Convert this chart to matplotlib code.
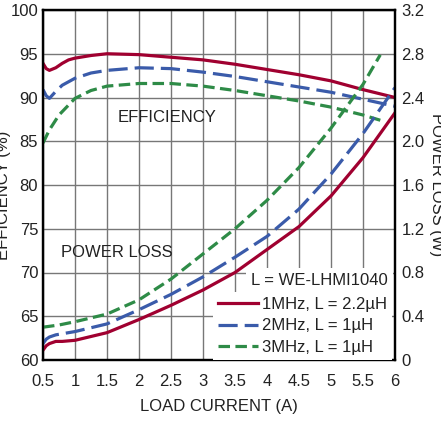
import numpy as np
import matplotlib.pyplot as plt
from matplotlib.lines import Line2D

plt.rcParams['font.family'] = ['Liberation Sans', 'DejaVu Sans']

# Sprawnosc (%) w funkcji pradu obciazenia
i_red_eff = [0.5, 0.55, 0.6, 0.7, 0.8, 0.9, 1.0, 1.25, 1.5, 2, 2.5, 3, 3.5, 4, 4.5, 5, 5.5, 6]
eff_red = [93.9, 93.3, 93.1, 93.4, 93.9, 94.3, 94.5, 94.8, 95.0, 94.9, 94.6, 94.3, 93.8, 93.2, 92.6, 91.9, 90.9, 90.0]

i_blue_eff = [0.5, 0.55, 0.6, 0.7, 0.8, 1.0, 1.25, 1.5, 2, 2.5, 3, 3.5, 4, 4.5, 5, 5.5, 6]
eff_blue = [90.9, 90.2, 89.9, 90.7, 91.4, 92.2, 92.8, 93.1, 93.4, 93.3, 92.9, 92.4, 91.8, 91.2, 90.6, 89.8, 89.0]

i_green_eff = [0.5, 0.6, 0.75, 1.0, 1.25, 1.5, 2, 2.5, 3, 3.5, 4, 4.5, 5, 5.5, 5.77]
eff_green = [84.8, 86.3, 88.0, 89.9, 90.8, 91.3, 91.6, 91.6, 91.3, 90.8, 90.2, 89.6, 88.9, 88.0, 87.4]

# Straty mocy (W)
i_red_pl = [0.5, 0.55, 0.6, 0.7, 0.8, 1.0, 1.5, 2, 2.5, 3, 3.5, 4, 4.5, 5, 5.5, 6]
pl_red = [0.09, 0.13, 0.15, 0.17, 0.17, 0.18, 0.25, 0.37, 0.50, 0.64, 0.80, 1.01, 1.22, 1.50, 1.85, 2.26]

i_blue_pl = [0.5, 0.55, 0.6, 0.7, 0.8, 1.0, 1.5, 2, 2.5, 3, 3.5, 4, 4.5, 5, 5.5, 6]
pl_blue = [0.15, 0.19, 0.21, 0.23, 0.24, 0.26, 0.33, 0.46, 0.60, 0.76, 0.94, 1.13, 1.38, 1.70, 2.07, 2.49]

i_green_pl = [0.5, 0.75, 1.0, 1.5, 2, 2.5, 3, 3.5, 4, 4.5, 5, 5.5, 5.77]
pl_green = [0.30, 0.32, 0.35, 0.42, 0.55, 0.74, 0.97, 1.20, 1.46, 1.76, 2.12, 2.52, 2.79]

labels = ['1MHz, L = 2.2µH', '2MHz, L = 1µH', '3MHz, L = 1µH']
x_ticks = [0.5, 1, 1.5, 2, 2.5, 3, 3.5, 4, 4.5, 5, 5.5, 6]
x_tick_labels = ['0.5', '1', '1.5', '2', '2.5', '3', '3.5', '4', '4.5', '5', '5.5', '6']
y_ticks = [60, 65, 70, 75, 80, 85, 90, 95, 100]
y2_ticks = [0, 0.4, 0.8, 1.2, 1.6, 2.0, 2.4, 2.8, 3.2]
y2_tick_labels = ['0', '0.4', '0.8', '1.2', '1.6', '2.0', '2.4', '2.8', '3.2']

red = '#A00030'
blue = '#3A5BAA'
green = '#2E8B47'
txt = '#222222'
lw = 2.3
blue_dash = (0, (6.0, 2.2))
green_dash = (0, (3.6, 1.7))

fig = plt.figure(figsize=(4.41, 4.21), dpi=100)
ax = fig.add_axes([43 / 441, 61 / 421, 352 / 441, 350 / 421])
ax2 = ax.twinx()

ax.plot(i_red_eff, eff_red, color=red, lw=lw)
ax.plot(i_blue_eff, eff_blue, color=blue, lw=lw, ls=blue_dash)
ax.plot(i_green_eff, eff_green, color=green, lw=lw, ls=green_dash)

ax2.plot(i_red_pl, pl_red, color=red, lw=lw)
ax2.plot(i_blue_pl, pl_blue, color=blue, lw=lw, ls=blue_dash)
ax2.plot(i_green_pl, pl_green, color=green, lw=lw, ls=green_dash)

ax.set_xlim(0.5, 6)
ax.set_ylim(60, 100)
ax2.set_ylim(0, 3.2)
ax.set_xticks(x_ticks, x_tick_labels)
ax.set_yticks(y_ticks)
ax2.set_yticks(y2_ticks, y2_tick_labels)
ax.grid(True, color='#777777', lw=1.0)
ax.set_axisbelow(True)

fs = 12
ax.tick_params(axis='both', length=0, labelsize=fs, colors=txt)
ax.tick_params(axis='y', pad=3.5)
ax.tick_params(axis='x', pad=10)
ax2.tick_params(axis='y', length=0, labelsize=fs, colors=txt, pad=4.5)
for a in (ax, ax2):
    for s in a.spines.values():
        s.set_linewidth(1.6)
        s.set_color('black')

ax.set_xlabel('LOAD CURRENT (A)', fontsize=fs, color=txt, labelpad=7)
ax.set_ylabel('EFFICIENCY (%)', fontsize=fs, color=txt)
ax.yaxis.set_label_coords(-0.092, 0.47)
ax2.set_ylabel('POWER LOSS (W)', fontsize=fs, color=txt, rotation=270)
ax2.yaxis.set_label_coords(1.14, 0.5)

ax.text(2.44, 87.7, 'EFFICIENCY', fontsize=fs, color=txt, ha='center', va='center')
ax.text(1.65, 72.3, 'POWER LOSS', fontsize=fs, color=txt, ha='center', va='center')

# Legenda: naglowek z cewka osobno, wpisy pod spodem na bialym tle
ax2.text(0.98, 0.226, 'L = WE-LHMI1040', transform=ax2.transAxes, fontsize=fs,
         color=txt, ha='right', va='center', zorder=5,
         bbox=dict(facecolor='white', edgecolor='none', boxstyle='square,pad=0.3'))

handles = [Line2D([], [], color=red, lw=lw),
           Line2D([], [], color=blue, lw=lw, ls=blue_dash),
           Line2D([], [], color=green, lw=lw, ls=green_dash)]
leg = ax2.legend(handles, labels, loc='upper left', bbox_to_anchor=(0.483, 0.195),
                 fontsize=fs, frameon=True, framealpha=1,
                 facecolor='white', edgecolor='none', fancybox=False,
                 borderpad=0.3, borderaxespad=0, handlelength=2.4,
                 handletextpad=0.25, labelspacing=0.4)
leg.set_zorder(6)
for t in leg.get_texts():
    t.set_color(txt)

fig.savefig('out.png', dpi=100)
